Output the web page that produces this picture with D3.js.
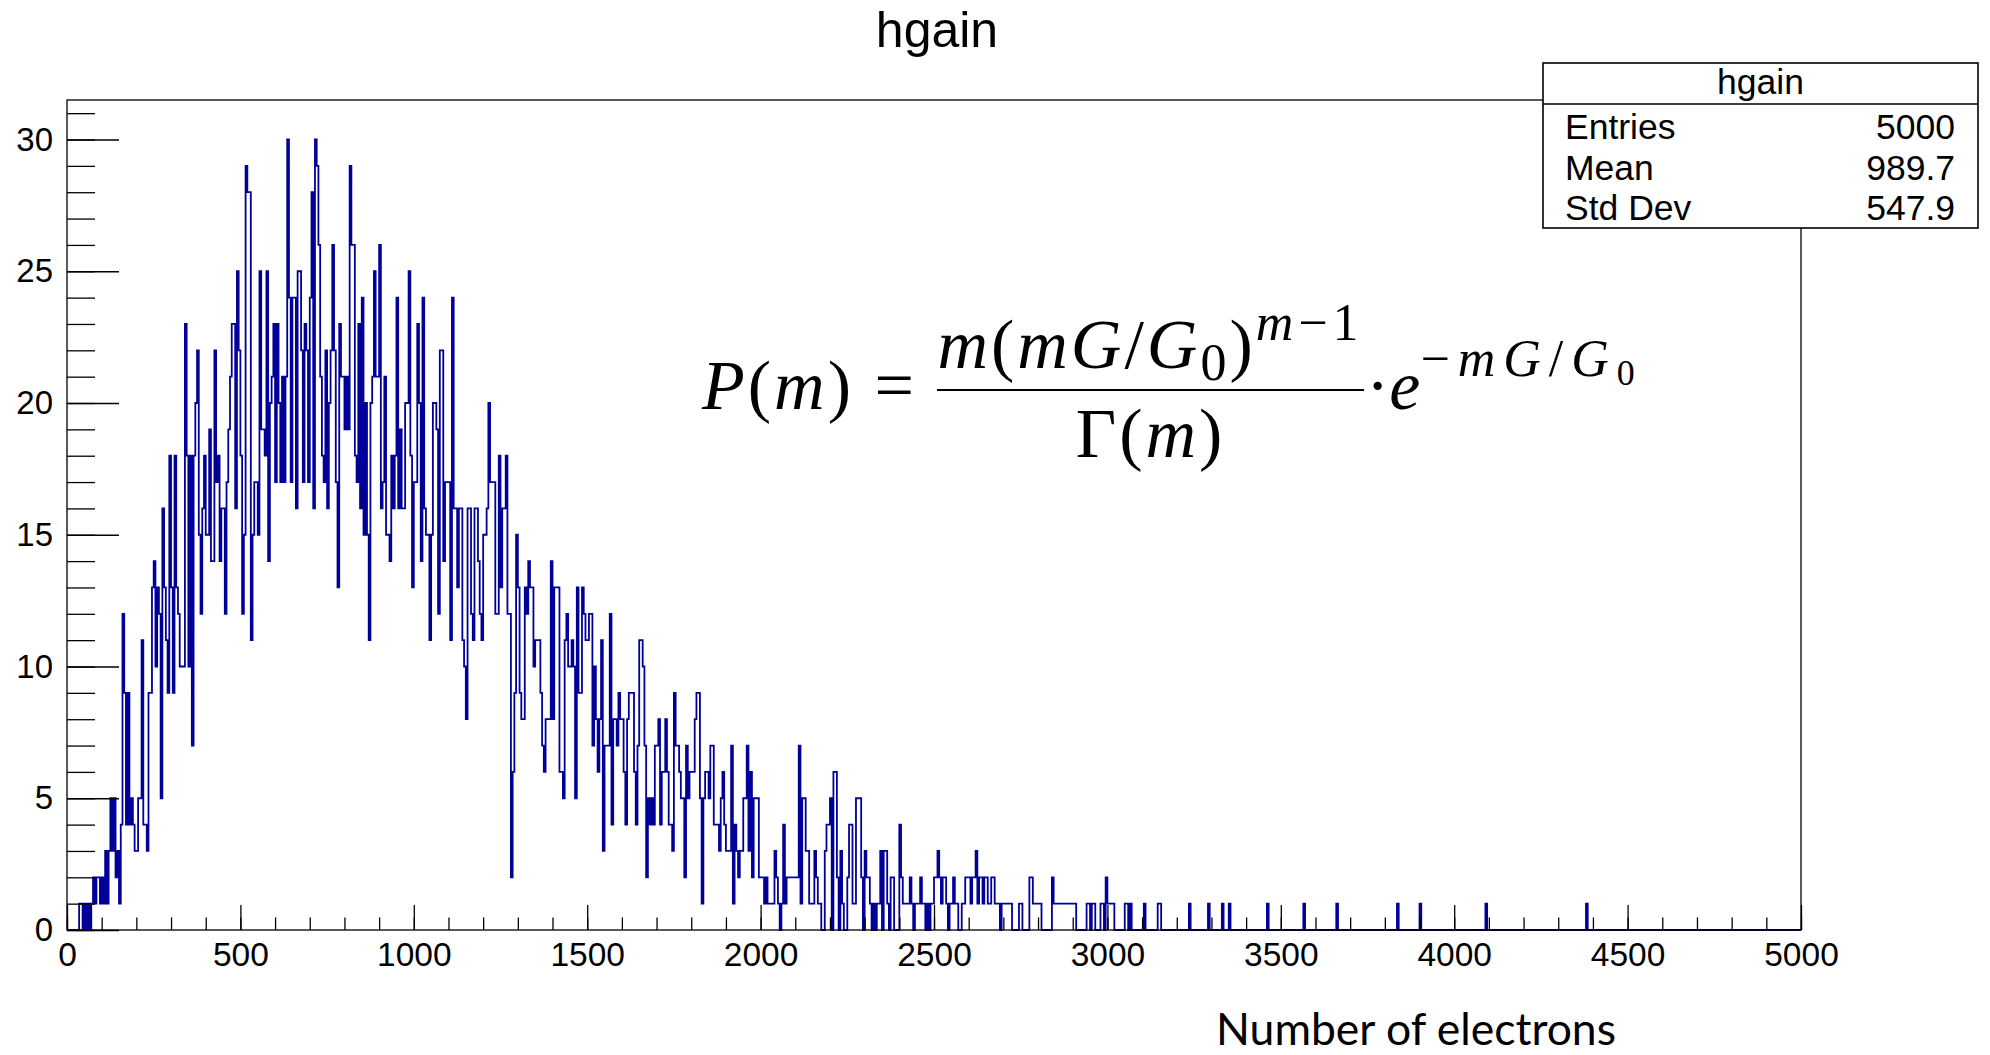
<!DOCTYPE html>
<html>
<head>
<meta charset="utf-8">
<script src="https://cdn.jsdelivr.net/npm/d3@7"></script>
<style>
  body { margin: 0; background: #fff; }
  svg { display: block; }
</style>
</head>
<body>
<svg id="chart" width="1990" height="1055"></svg>
<script>
// histogram hgain: 1000 bins of width 5 between 0 and 5000
var xMin = 0, xMax = 5000, binWidth = 5;

// bin contents, bins 0..679
var counts = [
  0,0,0,0,0,0,0,1,1,0,1,0,1,0,1,2,1,2,2,1,
  2,1,3,1,3,5,3,5,2,3,1,4,12,9,4,9,4,5,4,3,
  3,5,5,11,4,4,3,9,9,13,14,10,13,12,5,16,13,11,9,18,
  13,9,18,13,12,10,10,10,23,18,10,18,7,18,20,22,15,12,16,18,
  15,15,19,14,14,22,17,18,14,16,16,12,17,19,21,23,23,16,25,22,
  18,12,15,29,28,28,11,15,17,17,15,25,19,19,18,25,14,20,21,23,
  17,23,20,17,21,17,21,30,24,17,24,24,16,25,25,22,17,23,22,17,
  24,28,16,30,29,26,21,18,17,22,16,20,22,26,22,17,13,23,21,21,
  19,21,19,29,26,26,18,17,23,16,24,15,20,15,11,20,21,25,21,21,
  26,16,17,21,15,15,14,18,16,18,24,16,19,16,16,20,20,25,18,13,
  17,17,23,20,14,24,16,15,15,11,15,20,20,19,12,22,22,14,17,17,
  17,11,24,16,16,13,16,16,11,10,8,16,16,12,11,16,16,14,12,11,
  15,15,16,20,17,17,17,12,12,18,13,16,16,18,12,12,2,6,9,15,
  13,9,8,8,13,12,14,13,13,10,11,11,11,9,7,6,8,8,8,14,
  8,13,13,13,6,6,5,11,12,10,10,11,10,5,13,9,9,13,12,11,
  11,12,12,7,10,8,6,8,11,3,7,7,7,12,4,8,8,7,9,8,
  8,6,4,8,9,9,9,6,4,7,11,11,10,7,2,5,4,5,4,7,
  7,8,4,6,6,8,6,4,4,3,9,7,7,6,5,5,2,7,5,6,
  6,6,8,9,9,5,1,5,6,6,5,7,7,4,4,4,3,5,6,4,
  3,3,3,7,1,4,3,2,3,3,5,5,7,3,6,2,5,5,5,2,
  2,2,1,2,1,1,1,1,3,2,1,0,1,4,1,2,2,2,2,2,
  2,2,7,1,5,5,3,3,1,1,1,3,2,1,1,0,0,3,4,4,
  5,0,6,6,2,0,3,1,0,0,2,4,4,1,1,5,5,5,2,0,
  3,2,2,1,0,1,0,1,1,3,0,3,3,1,0,2,2,0,0,0,
  4,2,1,1,1,1,2,1,0,1,1,1,2,1,1,0,1,0,1,1,
  2,2,3,2,1,2,2,1,0,1,1,2,1,1,0,0,1,1,2,2,
  2,1,2,2,3,1,2,2,1,2,2,1,1,2,2,1,1,1,0,1,
  1,1,1,1,1,0,0,0,0,1,1,0,0,0,0,2,2,1,1,1,
  1,1,0,0,0,0,0,0,2,1,1,1,1,1,1,1,1,1,1,1,
  1,1,0,0,0,0,0,0,1,1,0,1,1,0,0,0,1,1,0,2,
  1,1,1,1,0,0,0,0,0,0,1,1,0,1,0,0,0,0,0,0,
  0,1,0,0,0,0,0,0,0,1,1,0,0,0,0,0,0,0,0,0,
  0,0,0,0,0,0,0,1,0,0,0,0,0,0,0,0,0,0,1,0,
  0,0,0,0,0,0,1,0,0,0,1,0,0,0,0,0,0,0,0,0
];
// single entries further out in the tail
var tailEntries = [3462, 3567, 3662, 3837, 3902, 4092, 4383];

var xMajorTicks = [0, 500, 1000, 1500, 2000, 2500, 3000, 3500, 4000, 4500, 5000];
var yMajorTicks = [0, 5, 10, 15, 20, 25, 30];
var yMax = 31.5;

var statTitle = "hgain";
var statLabels = ["Entries", "Mean", "Std Dev"];
var statValues = ["5000", "989.7", "547.9"];

// fill the full bin array
var nBins = (xMax - xMin) / binWidth;
var bins = [];
for (var i = 0; i < nBins; i++) bins.push(i < counts.length ? counts[i] : 0);
tailEntries.forEach(function(v) { bins[Math.floor((v - xMin) / binWidth)] += 1; });

var svg = d3.select("#chart");
svg.append("rect").attr("width", 1990).attr("height", 1055).attr("fill", "#fff");

// frame
var frame = { left: 67, right: 1801, top: 100, bottom: 930 };

var x = d3.scaleLinear().domain([xMin, xMax]).range([frame.left, frame.right]);
var y = d3.scaleLinear().domain([0, yMax]).range([frame.bottom, frame.top]);

// histogram outline, drawn as steps like ROOT does
var pts = [[xMin, 0]];
bins.forEach(function(c, i) { pts.push([xMin + i * binWidth, c]); });
pts.push([xMax, bins[bins.length - 1]]);

var line = d3.line()
  .x(function(d) { return x(d[0]); })
  .y(function(d) { return y(d[1]); })
  .curve(d3.curveStepAfter);

svg.append("path")
  .datum(pts)
  .attr("d", line)
  .attr("fill", "none")
  .attr("stroke", "#000099")
  .attr("stroke-width", 1.8);

// frame box
svg.append("rect")
  .attr("x", frame.left).attr("y", frame.top)
  .attr("width", frame.right - frame.left)
  .attr("height", frame.bottom - frame.top)
  .attr("fill", "none").attr("stroke", "#000").attr("stroke-width", 1.3);

var labelFont = "'Liberation Sans', Arial, Helvetica, sans-serif";

function styleAxis(g, size) {
  g.select(".domain").remove();
  g.selectAll(".tick line").attr("stroke", "#000").attr("stroke-width", 1.3);
  g.attr("font-family", labelFont).attr("font-size", size);
  g.selectAll(".tick text").attr("fill", "#000");
}

// y axis: minor ticks every 1, major every 5, all pointing into the frame
var yMinor = svg.append("g").attr("transform", "translate(" + frame.left + ",0)")
  .call(d3.axisLeft(y).tickValues(d3.range(0, 32, 1)).tickSizeInner(-28).tickSizeOuter(0).tickFormat(""));
styleAxis(yMinor, 33);
var yMajor = svg.append("g").attr("transform", "translate(" + frame.left + ",0)")
  .call(d3.axisLeft(y).tickValues(yMajorTicks).tickSizeInner(-52).tickSizeOuter(0).tickPadding(14).tickFormat(d3.format("d")));
styleAxis(yMajor, 33);

// x axis: minor ticks every 100, major every 500
var xMinor = svg.append("g").attr("transform", "translate(0," + frame.bottom + ")")
  .call(d3.axisBottom(x).tickValues(d3.range(0, 5001, 100)).tickSizeInner(-12.5).tickSizeOuter(0).tickFormat(""));
styleAxis(xMinor, 33.5);
var xMajor = svg.append("g").attr("transform", "translate(0," + frame.bottom + ")")
  .call(d3.axisBottom(x).tickValues(xMajorTicks).tickSizeInner(-25).tickSizeOuter(0).tickPadding(12).tickFormat(d3.format("d")));
styleAxis(xMajor, 33.5);

// title
svg.append("text")
  .attr("x", 937).attr("y", 47)
  .attr("text-anchor", "middle")
  .attr("font-family", labelFont).attr("font-size", 50)
  .text("hgain");

// stats box
var box = { left: 1543, right: 1978, top: 63, split: 104, bottom: 228 };
svg.append("rect")
  .attr("x", box.left).attr("y", box.top)
  .attr("width", box.right - box.left).attr("height", box.bottom - box.top)
  .attr("fill", "#fff").attr("stroke", "#000").attr("stroke-width", 1.6);
svg.append("line")
  .attr("x1", box.left).attr("x2", box.right)
  .attr("y1", box.split).attr("y2", box.split)
  .attr("stroke", "#000").attr("stroke-width", 1.6);
svg.append("text")
  .attr("x", (box.left + box.right) / 2).attr("y", 94)
  .attr("text-anchor", "middle")
  .attr("font-family", labelFont).attr("font-size", 35.5)
  .text(statTitle);
statLabels.forEach(function(lab, i) {
  var yy = 139 + i * 40.5;
  svg.append("text").attr("x", box.left + 22).attr("y", yy)
    .attr("font-family", labelFont).attr("font-size", 35.5).text(lab);
  svg.append("text").attr("x", box.right - 23).attr("y", yy)
    .attr("text-anchor", "end")
    .attr("font-family", labelFont).attr("font-size", 35.5).text(statValues[i]);
});

// formula (Polya distribution)
var serif = "'Liberation Serif', 'Times New Roman', serif";
var fs = 70, ss = 52, sss = 36;
var fg = svg.append("g").attr("font-family", serif).attr("font-size", fs).attr("fill", "#000");

var lhs = fg.append("text").attr("x", 702).attr("y", 409).attr("letter-spacing", 3);
lhs.append("tspan").attr("font-style", "italic").text("P");
lhs.append("tspan").text("(");
lhs.append("tspan").attr("font-style", "italic").text("m");
lhs.append("tspan").text(") =");

var fracL = 937, fracR = 1364, fracC = (fracL + fracR) / 2;
var num = fg.append("text").attr("x", fracC).attr("y", 368).attr("text-anchor", "middle").attr("letter-spacing", 3);
num.append("tspan").attr("font-style", "italic").text("m");
num.append("tspan").text("(");
num.append("tspan").attr("font-style", "italic").text("mG");
num.append("tspan").text("/");
num.append("tspan").attr("font-style", "italic").text("G");
num.append("tspan").attr("font-size", ss).attr("dy", 12).text("0");
num.append("tspan").attr("dy", -12).text(")");
num.append("tspan").attr("font-size", ss).attr("font-style", "italic").attr("letter-spacing", 5).attr("dy", -28).text("m");
num.append("tspan").attr("font-size", ss).attr("letter-spacing", 5).text("\u22121");

fg.append("line")
  .attr("x1", fracL).attr("x2", fracR).attr("y1", 390).attr("y2", 390)
  .attr("stroke", "#000").attr("stroke-width", 2.2);

var den = fg.append("text").attr("x", fracC).attr("y", 457).attr("text-anchor", "middle").attr("letter-spacing", 3);
den.append("tspan").text("\u0393(");
den.append("tspan").attr("font-style", "italic").text("m");
den.append("tspan").text(")");

var ex = fg.append("text").attr("x", fracR + 2).attr("y", 409);
ex.append("tspan").text("\u00b7");
ex.append("tspan").attr("font-style", "italic").text("e");
ex.append("tspan").attr("font-size", ss).attr("letter-spacing", 8).attr("dy", -33).text("\u2212");
ex.append("tspan").attr("font-size", ss).attr("letter-spacing", 8).attr("font-style", "italic").text("mG");
ex.append("tspan").attr("font-size", ss).attr("letter-spacing", 8).text("/");
ex.append("tspan").attr("font-size", ss).attr("letter-spacing", 8).attr("font-style", "italic").text("G");
ex.append("tspan").attr("font-size", sss).attr("dy", 9).text("0");

// x axis title, fitted to the width it has in the picture
var xt = svg.append("text")
  .attr("x", 1416).attr("y", 1045)
  .attr("text-anchor", "middle")
  .attr("font-family", "Lato, 'Open Sans', sans-serif").attr("font-size", 40)
  .text("Number of electrons");
var w = xt.node().getComputedTextLength();
xt.attr("font-size", 40 * 400 / w);
</script>
</body>
</html>
